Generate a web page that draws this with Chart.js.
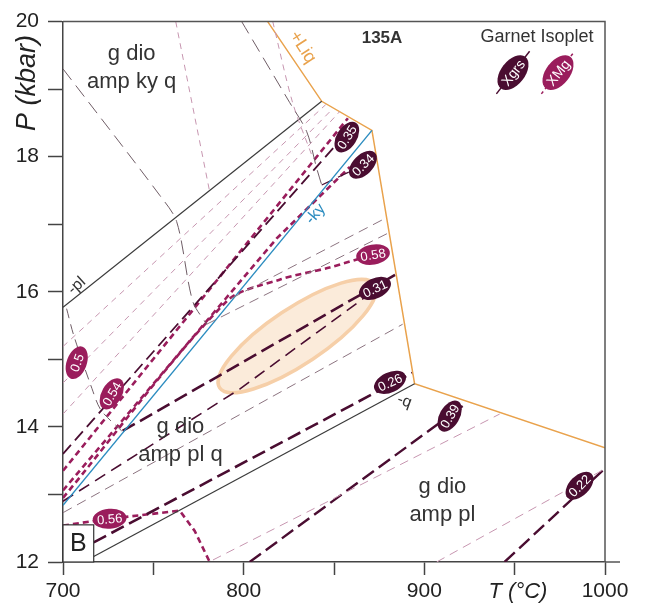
<!DOCTYPE html>
<html>
<head>
<meta charset="utf-8">
<script src="https://cdn.jsdelivr.net/npm/chart.js@4.4.1/dist/chart.umd.min.js"></script>
<style>
html, body { margin: 0; padding: 0; background: #fff; }
</style>
</head>
<body>
<canvas id="pt" width="647" height="612"></canvas>
<script>
// axis ticks
const tempTicks = [700, 800, 900, 1000];
const pressTicks = [12, 14, 16, 18, 20];

// phase boundaries [T (°C), P (kbar)]
const liqBoundary = [[813.3, 20], [843.2, 18.82], [871.0, 18.39], [894.6, 14.64], [1000, 13.69]];
const plOut = [[700, 15.77], [843.2, 18.82]];
const kyOut = [[700, 12.84], [871.0, 18.39]];
const qOut = [[717, 12.08], [894.6, 14.64]];

// other reaction lines
const rxn1 = [[700, 19.3], [753.5, 17.43], [762.9, 17.04], [771.8, 15.86], [779.5, 15.52]];
const rxn2 = [[702, 15.75], [706, 15.35], [716, 14.57], [721, 14.25], [732.5, 13.94]];
const rxn3 = [[798.9, 20], [825.5, 18.8], [834.9, 18.37], [840.4, 17.83], [843.2, 17.58]];
const rxn4 = [[762.4, 20], [781.2, 17.48]];
const rxn5 = [[816.1, 20], [827.1, 18.8], [838, 18.0]];

// Xgrs isopleths
const grs035 = [[700, 13.6], [859.9, 18.44]];
const grs034 = [[843.2, 17.58], [873.6, 17.97]];
const grs031 = [[733, 13.94], [883.8, 16.25]];
const grs030 = [[700, 12.9], [797.8, 14.56], [879, 16.15]];
const grs026 = [[717, 12.29], [893.4, 14.8]];
const grs039 = [[803.3, 12.0], [921.2, 14.31]];
const grs022 = [[944.4, 12.0], [999, 13.36]];
const grsThin1 = [[779.5, 15.52], [879.3, 16.86]];
const grsThin2 = [[793, 15.9], [877.1, 17.07]];
const grsThin3 = [[700, 12.73], [888, 15.52]];

// XMg isopleths
const mg054 = [[700, 13.35], [857.7, 18.57]];
const mg055 = [[700, 13.06], [818.3, 16.79], [858.8, 17.85]];
const mg058 = [[700, 12.95], [790.6, 15.86], [819.9, 16.18], [847.6, 16.36], [871.6, 16.55], [882.1, 16.61]];
const mg056 = [[700, 12.54], [725.8, 12.64], [764.6, 12.76], [772.9, 12.46], [781.2, 12.0]];
const mgThin1 = [[700, 15.19], [845.4, 18.77]];
const mgThin2 = [[700, 14.65], [849.3, 18.71]];
const mgThin3 = [[700, 14.19], [853.2, 18.67]];
const mgThin4 = [[783, 12.03], [941.7, 14.19]];
const mgThin5 = [[906.8, 12.0], [1000, 13.38]];

// isopleth labels
const grsLabels = [
    { T: 857.1, P: 18.29, text: '0.35' },
    { T: 866.0, P: 17.88, text: '0.34' },
    { T: 872.7, P: 16.05, text: '0.31' },
    { T: 881.0, P: 14.66, text: '0.26' },
    { T: 914.0, P: 14.16, text: '0.39' },
    { T: 985.9, P: 13.13, text: '0.22' },
];
const mgLabels = [
    { T: 707.6, P: 14.95, text: '0.5' },
    { T: 727.0, P: 14.49, text: '0.54' },
    { T: 871.6, P: 16.55, text: '0.58' },
    { T: 725.8, P: 12.64, text: '0.56' },
];

// estimated peak P-T field (ends of long axis)
const peakField = [[786.7, 14.58], [872.5, 16.11]];

// phase field names
const fields = [
    { T: 738, P: 19.32, lines: ['g dio', 'amp ky q'] },
    { T: 765, P: 13.79, lines: ['g dio', 'amp pl q'] },
    { T: 910, P: 12.91, lines: ['g dio', 'amp pl'] },
];

const FONT = "'Liberation Sans', Arial, sans-serif";
const C = {
    grs: '#4a0d31',
    mg: '#9a1d5c',
    pink: '#c796b0',
    grey: '#8c7480',
    rxn: '#6f5d66',
    liq: '#e9a24c',
    ky: '#2b8cc0',
    solid: '#3a3a3a',
};

function line(pts, color, width, dash, tension) {
    return {
        data: pts.map(p => ({ x: p[0], y: p[1] })),
        showLine: true,
        borderColor: color,
        borderWidth: width,
        borderDash: dash || [],
        pointRadius: 0,
        tension: tension || 0,
        fill: false,
    };
}

const datasets = [
    line(rxn1, C.rxn, 1, [14, 7], 0.3),
    line(rxn2, C.rxn, 1, [10, 6], 0.3),
    line(rxn3, C.rxn, 1, [14, 7], 0.3),
    line(rxn4, C.pink, 1, [6, 5]),
    line(rxn5, C.pink, 1, [6, 5], 0.3),
    line(mgThin1, C.pink, 1, [6, 5]),
    line(mgThin2, C.pink, 1, [6, 5]),
    line(mgThin3, C.pink, 1, [6, 5]),
    line(mgThin4, C.pink, 1, [9, 6]),
    line(mgThin5, C.pink, 1, [9, 6]),
    line(grsThin1, C.grey, 1, [10, 6]),
    line(grsThin2, C.grey, 1, [10, 6]),
    line(grsThin3, C.grey, 1, [10, 6]),
    line(plOut, C.solid, 1.2),
    line(qOut, C.solid, 1.2),
    line(kyOut, C.ky, 1.4),
    line(liqBoundary, C.liq, 1.5),
    line(grs030, C.grs, 1.6, [12, 7]),
    line(grs035, C.grs, 1.8, [12, 6]),
    line(grs034, C.grs, 1.2, [12, 6]),
    line(grs031, C.grs, 2.6, [14, 6]),
    line(grs026, C.grs, 2.6, [14, 6]),
    line(grs039, C.grs, 2.4, [14, 6]),
    line(grs022, C.grs, 2.4, [14, 6]),
    line(mg054, C.mg, 2.6, [6, 4]),
    line(mg055, C.mg, 2.6, [6, 4]),
    line(mg058, C.mg, 2.6, [6, 4], 0.3),
    line(mg056, C.mg, 2.6, [6, 4]),
];

const grsTilt = [-58, -45, -25, -25, -60, -45];
const mgTilt = [-70, -60, -10, -5];

function tag(ctx, x, y, deg, fill, text) {
    ctx.save();
    ctx.translate(x, y);
    ctx.rotate(deg * Math.PI / 180);
    ctx.beginPath();
    ctx.ellipse(0, 0, 17, 10, 0, 0, Math.PI * 2);
    ctx.fillStyle = fill;
    ctx.fill();
    ctx.fillStyle = '#fff';
    ctx.font = "13px 'Liberation Sans Narrow', " + FONT;
    ctx.textAlign = 'center';
    ctx.textBaseline = 'middle';
    ctx.fillText(text, 0, 1);
    ctx.restore();
}

function word(ctx, text, x, y, deg, font, color) {
    ctx.save();
    ctx.translate(x, y);
    ctx.rotate(deg * Math.PI / 180);
    ctx.font = font;
    ctx.fillStyle = color;
    ctx.textAlign = 'center';
    ctx.textBaseline = 'middle';
    ctx.fillText(text, 0, 0);
    ctx.restore();
}

const diagram = {
    id: 'diagram',
    beforeDatasetsDraw(chart) {
        const ctx = chart.ctx, sx = chart.scales.x, sy = chart.scales.y;
        const x1 = sx.getPixelForValue(peakField[0][0]), y1 = sy.getPixelForValue(peakField[0][1]);
        const x2 = sx.getPixelForValue(peakField[1][0]), y2 = sy.getPixelForValue(peakField[1][1]);
        const a = Math.hypot(x2 - x1, y2 - y1) / 2;
        ctx.save();
        ctx.beginPath();
        ctx.ellipse((x1 + x2) / 2, (y1 + y2) / 2, a, a * 0.3, Math.atan2(y2 - y1, x2 - x1), 0, Math.PI * 2);
        ctx.fillStyle = 'rgba(250, 228, 206, 0.75)';
        ctx.fill();
        ctx.lineWidth = 3.5;
        ctx.strokeStyle = '#f6cfa8';
        ctx.stroke();
        ctx.restore();
    },
    afterDatasetsDraw(chart) {
        const ctx = chart.ctx, sx = chart.scales.x, sy = chart.scales.y;
        const a = chart.chartArea;
        const X = v => sx.getPixelForValue(v), Y = v => sy.getPixelForValue(v);

        // frame
        ctx.save();
        ctx.strokeStyle = '#555';
        ctx.lineWidth = 1.5;
        ctx.beginPath();
        ctx.moveTo(a.left, a.top);
        ctx.lineTo(a.right, a.top);
        ctx.lineTo(a.right, a.bottom);
        ctx.moveTo(a.right, a.bottom);
        ctx.lineTo(a.right + 15, a.bottom);
        ctx.stroke();
        ctx.restore();

        grsLabels.forEach((l, i) => tag(ctx, X(l.T), Y(l.P), grsTilt[i], C.grs, l.text));
        mgLabels.forEach((l, i) => tag(ctx, X(l.T), Y(l.P), mgTilt[i], C.mg, l.text));

        const f22 = '22px ' + FONT;
        fields.forEach(f => {
            word(ctx, f.lines[0], X(f.T), Y(f.P) - 14, 0, f22, '#333');
            word(ctx, f.lines[1], X(f.T), Y(f.P) + 14, 0, f22, '#333');
        });

        word(ctx, '+Liq', X(832.6), Y(19.62), 57, '18px ' + FONT, C.liq);
        word(ctx, '-pl', X(707.6), Y(16.09), -42, '16px ' + FONT, '#333');
        word(ctx, '-ky', X(839.8), Y(17.15), -50, '16px ' + FONT, C.ky);
        word(ctx, '-q', X(889), Y(14.38), 20, '16px ' + FONT, '#333');

        word(ctx, '135A', a.left + 319, a.top + 17, 0, 'bold 17px ' + FONT, '#333');
        word(ctx, 'Garnet Isoplet', a.left + 474, a.top + 15, 0, '18px ' + FONT, '#333');

        // legend keys
        [[450, 51, C.grs, 'Xgrs'], [495, 51, C.mg, 'XMg']].forEach(k => {
            const kx = a.left + k[0], ky = a.top + k[1];
            ctx.save();
            ctx.translate(kx, ky);
            ctx.rotate(-52 * Math.PI / 180);
            ctx.strokeStyle = k[2];
            ctx.lineWidth = 1.5;
            ctx.setLineDash(k[3] === 'XMg' ? [3, 3] : []);
            ctx.beginPath();
            ctx.moveTo(-27, 0);
            ctx.lineTo(27, 0);
            ctx.stroke();
            ctx.beginPath();
            ctx.ellipse(0, 0, 20, 12, 0, 0, Math.PI * 2);
            ctx.fillStyle = k[2];
            ctx.fill();
            ctx.fillStyle = '#fff';
            ctx.font = '14px ' + FONT;
            ctx.textAlign = 'center';
            ctx.textBaseline = 'middle';
            ctx.fillText(k[3], 0, 1);
            ctx.restore();
        });

        // panel letter
        ctx.save();
        ctx.strokeStyle = '#333';
        ctx.lineWidth = 1.2;
        ctx.fillStyle = '#fff';
        const bx = X(717), by = Y(12.55);
        ctx.fillRect(a.left, by, bx - a.left, a.bottom - by);
        ctx.strokeRect(a.left, by, bx - a.left, a.bottom - by);
        ctx.restore();
        word(ctx, 'B', (a.left + bx) / 2, (by + a.bottom) / 2 + 1, 0, '25px ' + FONT, '#222');

        // axis titles
        word(ctx, 'P (kbar)', 27, 83, -90, 'italic 27px ' + FONT, '#222');
        word(ctx, 'T (°C)', 518, 592, 0, 'italic 22px ' + FONT, '#222');
    }
};

new Chart(document.getElementById('pt'), {
    type: 'scatter',
    data: { datasets: datasets },
    options: {
        responsive: false,
        animation: false,
        devicePixelRatio: 1,
        layout: { padding: { top: 21, right: 42, left: 0, bottom: 0 } },
        plugins: { legend: { display: false }, tooltip: { enabled: false } },
        scales: {
            x: {
                type: 'linear',
                min: 700,
                max: 1000,
                afterFit: s => { s.height = 50; },
                border: { color: '#444', width: 1.5 },
                grid: { drawOnChartArea: false, tickLength: 13, tickColor: '#444', tickWidth: 1.5 },
                ticks: {
                    stepSize: 50,
                    padding: 4,
                    color: '#222',
                    font: { family: FONT, size: 21 },
                    callback: v => tempTicks.includes(v) ? String(v) : '',
                },
            },
            y: {
                type: 'linear',
                min: 12,
                max: 20,
                afterFit: s => { s.width = 63; },
                border: { color: '#444', width: 1.5 },
                grid: { drawOnChartArea: false, tickLength: 15, tickColor: '#444', tickWidth: 1.5 },
                ticks: {
                    stepSize: 1,
                    padding: 9,
                    color: '#222',
                    font: { family: FONT, size: 21 },
                    callback: v => pressTicks.includes(v) ? String(v) : '',
                },
            },
        },
    },
    plugins: [diagram],
});
</script>
</body>
</html>
